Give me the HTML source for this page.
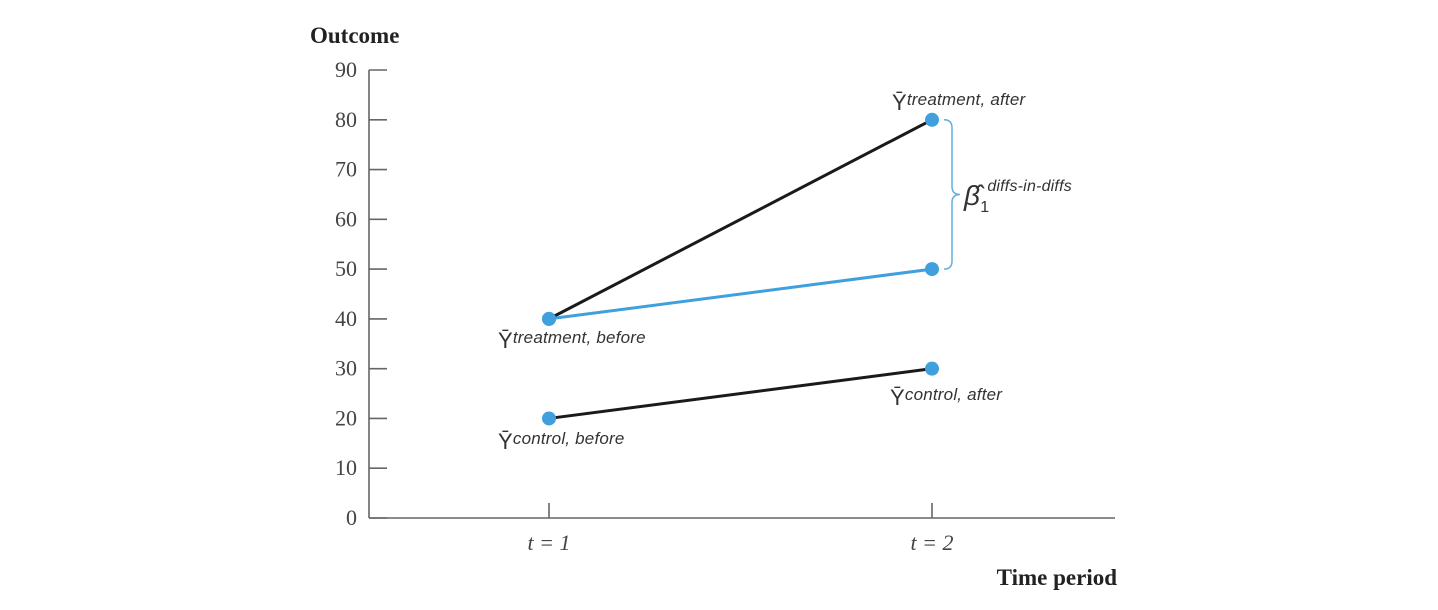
<!DOCTYPE html>
<html><head><meta charset="utf-8"><style>
body{margin:0;background:#fff;width:1438px;height:610px;overflow:hidden}
svg{display:block}
.tk{font-family:"Liberation Serif",serif;font-size:22px;fill:#444}
.lb{font-family:"Liberation Sans",sans-serif;font-style:italic;font-size:17px;fill:#333;letter-spacing:0.2px}
</style></head><body>
<svg width="1438" height="610">
<g id="axes"></g><g id="marks"></g>
</svg>
<script>
const yTicks=[0,10,20,30,40,50,60,70,80,90];
const periods=["t = 1","t = 2"];
const treatment=[40,80];
const counterfactual=[40,50];
const control=[20,30];
const NS="http://www.w3.org/2000/svg";
const X0=369,X1=1115,Y0=518,Y90=70;
const y=v=>Y0-(v/90)*(Y0-Y90);
const xp=[549,932];
const x=i=>xp[i];
function mk(tag,attrs,parent,text){const e=document.createElementNS(NS,tag);for(const k in attrs)e.setAttribute(k,attrs[k]);if(text!==undefined)e.textContent=text;parent.appendChild(e);return e;}
const ax=document.getElementById('axes'),mg=document.getElementById('marks');
let e=mk('line',{x1:X0,y1:Y90,x2:X0,y2:Y0,stroke:'#666','stroke-width':1.6},ax);


e=mk('line',{x1:X0,y1:Y0,x2:X1,y2:Y0,stroke:'#666','stroke-width':1.6},ax);


yTicks.forEach(v=>{
 let t=mk('line',{x1:X0,y1:y(v),x2:X0+18,y2:y(v),stroke:'#666','stroke-width':1.6},ax);
 
 
 let l=mk('text',{x:X0-12,y:y(v)+7,'text-anchor':'end',class:'tk'},ax,String(v));
 
 
});
periods.forEach((p,i)=>{
 let t=mk('line',{x1:x(i),y1:Y0,x2:x(i),y2:Y0-15,stroke:'#666','stroke-width':1.6},ax);
 
 
 let l=mk('text',{x:x(i),y:Y0+32,'text-anchor':'middle',class:'tk',style:'font-style:italic'},ax,p);
 
 
});
e=mk('text',{x:310,y:43,class:'tk',style:'font-weight:bold;fill:#222;font-size:23px'},ax,'Outcome');


e=mk('text',{x:1117,y:585,class:'tk','text-anchor':'end',style:'font-weight:bold;fill:#222;font-size:23px'},ax,'Time period');


function line(arr,color,name){let l=mk('line',{x1:x(0),y1:y(arr[0]),x2:x(1),y2:y(arr[1]),stroke:color,'stroke-width':3},mg);
 
 }
line(treatment,'#1a1a1a','treatment-line');
line(counterfactual,'#3fa0dd','counterfactual-line');
line(control,'#1a1a1a','control-line');
[[treatment,'treatment'],[counterfactual,'counterfactual'],[control,'control']].forEach(([arr,n])=>arr.forEach((v,i)=>{
 let c=mk('circle',{cx:x(i),cy:y(v),r:7,fill:'#3fa0dd'},mg);
 
 
}));
const bx=x(1)+12,bt=y(treatment[1]),bb=y(counterfactual[1]),bm=(bt+bb)/2;
e=mk('path',{d:`M${bx},${bt} q8,0 8,8 L${bx+8},${bm-8} q0,8 8,8 q-8,0 -8,8 L${bx+8},${bb-8} q0,8 -8,8`,fill:'none',stroke:'#5fb0e0','stroke-width':1.5},mg);


function lbl(px,py,sub,name){
 let t=mk('text',{x:px,y:py,class:'lb'},mg);
 
 
 mk('tspan',{style:'font-style:normal;font-size:22px'},t,'Ȳ');
 mk('tspan',{dy:-5},t,sub);
}
lbl(892,110,'treatment, after','label-treatment-after');
lbl(498,348,'treatment, before','label-treatment-before');
lbl(890,405,'control, after','label-control-after');
lbl(498,449,'control, before','label-control-before');
e=mk('text',{x:964,y:205,class:'lb',style:'font-size:28px'},mg);


mk('tspan',{},e,'β̂');
mk('tspan',{style:'font-size:16px;font-style:normal',dy:7},e,'1');
mk('tspan',{style:'font-size:16px',dy:-21,dx:-2},e,'diffs-in-diffs');
</script>
</body></html>
